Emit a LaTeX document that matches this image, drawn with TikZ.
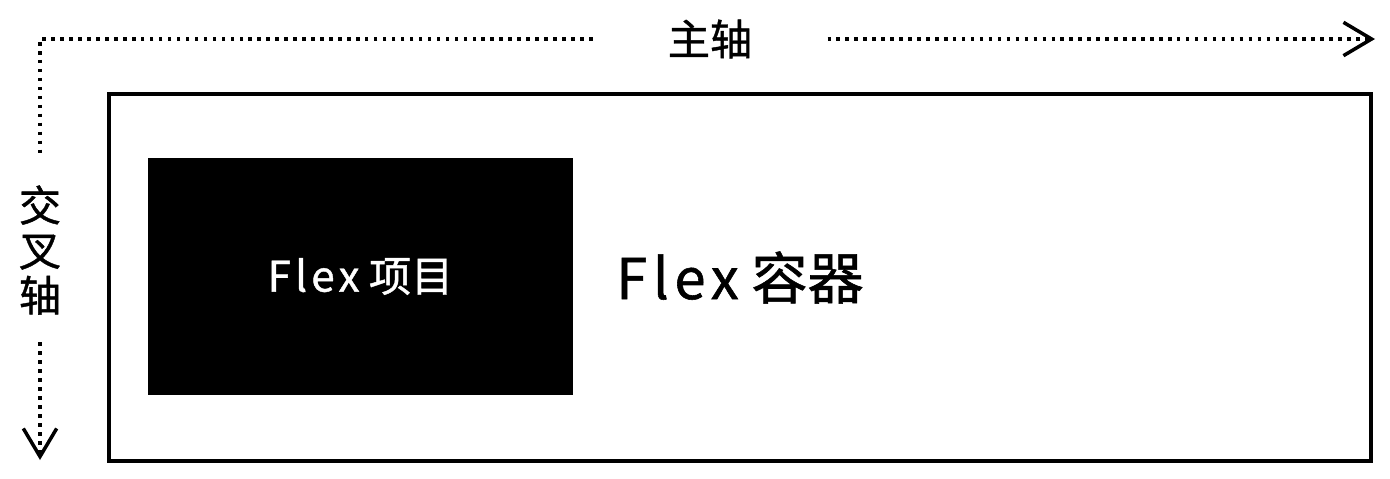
\documentclass[tikz,border=0pt]{standalone}
\usepackage{fontspec}
\setmainfont[FakeBold=1]{Noto Sans CJK SC}
\newfontfamily\wide[FakeBold=1, LetterSpace=10]{Noto Sans CJK SC}
\usetikzlibrary{arrows.meta}

\tikzset{
  axis/.style={line width=2pt, dash pattern=on 2pt off 3.1pt},
  barb/.style={-{Straight Barb[length=16pt, width=19pt, line width=2pt]}},
  axislabel/.style={font=\fontsize{24pt}{25.6pt}\selectfont, inner sep=0pt},
  frame/.style={draw, line width=2.2pt, font=\fontsize{32pt}{36pt}\selectfont},
  itembox/.style={fill=black, text=white, font=\fontsize{24pt}{28pt}\selectfont},
}

\begin{document}
\begin{tikzpicture}[x=0.02cm, y=-0.02cm]
\useasboundingbox (0,0) rectangle (1390,478);
\coordinate (origin) at (40,39);
\coordinate (mainend) at (1375,39);
\coordinate (crossend) at (40,460);
\node (container) [frame, minimum width=25.24cm, minimum height=7.34cm] at (740,277.5) {{\wide Flex} 容器};
\node (item) [itembox, minimum width=8.5cm, minimum height=4.74cm] at (360.5,276.5) {{\wide Flex} 项目};
\node (mainlabel) [axislabel, inner xsep=1.5cm] at (710,39) {主轴};
\node (crosslabel) [axislabel, align=center, inner ysep=0.55cm] at (40,250) {交\\叉\\轴};
\draw[axis] (mainlabel.west) -- (origin) -- (crosslabel.north);
\draw[axis, barb] (mainlabel.east) -- (mainend);
\draw[axis, barb] (crosslabel.south) -- (crossend);
\end{tikzpicture}
\end{document}
